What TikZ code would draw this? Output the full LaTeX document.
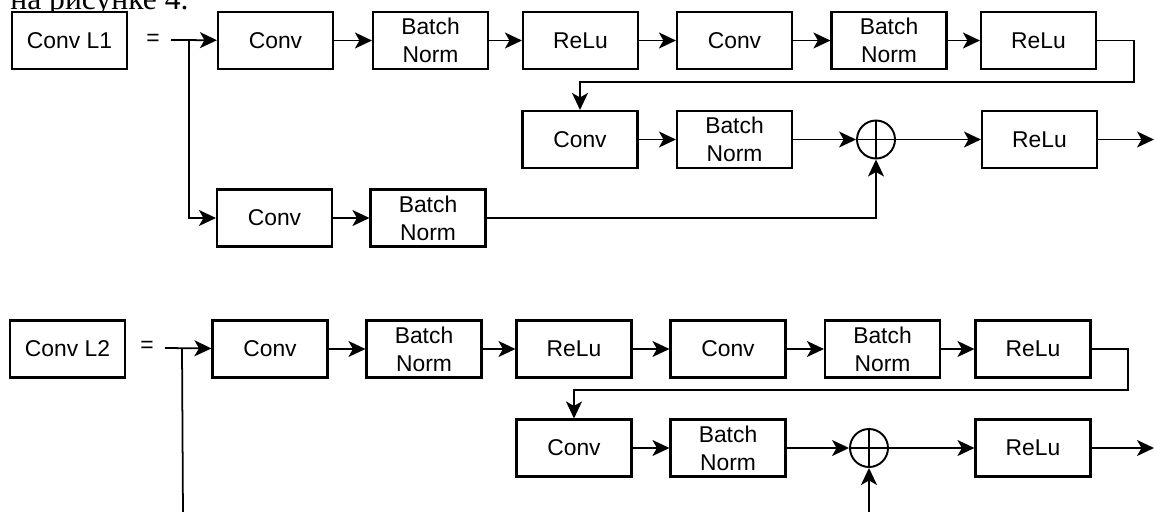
\documentclass[tikz,border=0pt]{standalone}
\usepackage{fontspec}
\setmainfont{Liberation Sans}
\newfontfamily\cyrserif{Liberation Serif}
\usetikzlibrary{arrows.meta}
\tikzset{
	blk/.style ={rectangle, draw=black, line width=1.2pt, minimum width=23mm, minimum height=11.4mm, align=center, inner sep=1pt, font=\fontsize{13}{16}\selectfont},
	sumj/.style={circle, draw=black, line width=1.1pt, minimum size=7.6mm, inner sep=0pt,
		path picture={\draw[line width=1pt] (path picture bounding box.north) -- (path picture bounding box.south)
			(path picture bounding box.west) -- (path picture bounding box.east);}},
	eqsign/.style={font=\fontsize{13}{16}\selectfont, inner sep=0pt},
	sig/.style ={-{Stealth[length=3.4mm, width=3.2mm, inset=0.9mm]}, line width=1pt},
	wire/.style={line width=1pt},
}

\begin{document}
\begin{tikzpicture}[x=0.2mm, y=-0.2mm]
	\useasboundingbox (0,0) rectangle (1154,511);
	% end of the text line above the figure
	\begin{scope}
		\clip (0,0) rectangle (1154,10);
		\node[anchor=base west, inner sep=0pt, font=\cyrserif\fontsize{18}{20}\selectfont] (caption) at (10,9) {на рисунке 4.};
	\end{scope}

	% --- Conv L1 ---
	\node[blk] (l1) at (69.5,40.5) {Conv L1};
	\node[eqsign] (eq1) at (153,40) {=};
	\coordinate (in1) at (171,40);
	\coordinate (br1) at (189,40);
	\node[blk] (c11) at (275.5,40.5) {Conv};
	\node[blk] (b11) at (430.5,40.5) {Batch\\Norm};
	\node[blk] (r11) at (580.5,40.5) {ReLu};
	\node[blk] (c12) at (734.5,40.5) {Conv};
	\node[blk] (b12) at (889,40.5) {Batch\\Norm};
	\node[blk] (r12) at (1038.5,40.5) {ReLu};
	\coordinate (lp1) at (1134,82);
	\node[blk] (c13) at (580,139.5) {Conv};
	\node[blk] (b13) at (734.5,139.5) {Batch\\Norm};
	\node[sumj] (s1) at (876,139.5) {};
	\node[blk] (r13) at (1039.5,139.5) {ReLu};
	\coordinate (out1) at (1154,139.5);
	\node[blk] (c14) at (274.5,218) {Conv};
	\node[blk] (b14) at (428,218) {Batch\\Norm};

	\draw[sig] (in1) -- (c11);
	\draw[sig] (c11) -- (b11);
	\draw[sig] (b11) -- (r11);
	\draw[sig] (r11) -- (c12);
	\draw[sig] (c12) -- (b12);
	\draw[sig] (b12) -- (r12);
	\draw[sig] (r12.east) -| (lp1) -| (c13.north);
	\draw[sig] (c13) -- (b13);
	\draw[sig] (b13) -- (s1);
	\draw[sig] (s1) -- (r13);
	\draw[sig] (r13) -- (out1);
	\draw[sig] (br1) |- (c14.west);
	\draw[sig] (c14) -- (b14);
	\draw[sig] (b14.east) -| (s1.south);

	% --- Conv L2 ---
	\node[blk] (l2) at (67.5,349) {Conv L2};
	\node[eqsign] (eq2) at (147,347) {=};
	\coordinate (in2) at (165,348);
	\coordinate (br2) at (182,348);
	\coordinate (bt2) at (183,515);
	\node[blk] (c21) at (270,349) {Conv};
	\node[blk] (b21) at (424,349) {Batch\\Norm};
	\node[blk] (r21) at (574,349) {ReLu};
	\node[blk] (c22) at (728,349) {Conv};
	\node[blk] (b22) at (882.5,349) {Batch\\Norm};
	\node[blk] (r22) at (1033,349) {ReLu};
	\coordinate (lp2) at (1128,390);
	\node[blk] (c23) at (574,448) {Conv};
	\node[blk] (b23) at (728,448) {Batch\\Norm};
	\node[sumj] (s2) at (869,448) {};
	\node[blk] (r23) at (1033,448) {ReLu};
	\coordinate (out2) at (1154,448);
	\coordinate (bt3) at (869,515);

	\draw[sig] (in2) -- (c21);
	\draw[sig] (c21) -- (b21);
	\draw[sig] (b21) -- (r21);
	\draw[sig] (r21) -- (c22);
	\draw[sig] (c22) -- (b22);
	\draw[sig] (b22) -- (r22);
	\draw[sig] (r22.east) -| (lp2) -| (c23.north);
	\draw[sig] (c23) -- (b23);
	\draw[sig] (b23) -- (s2);
	\draw[sig] (s2) -- (r23);
	\draw[sig] (r23) -- (out2);
	\draw[wire] (br2) -- (bt2);
	\draw[sig] (bt3) -- (s2.south);
\end{tikzpicture}
\end{document}
